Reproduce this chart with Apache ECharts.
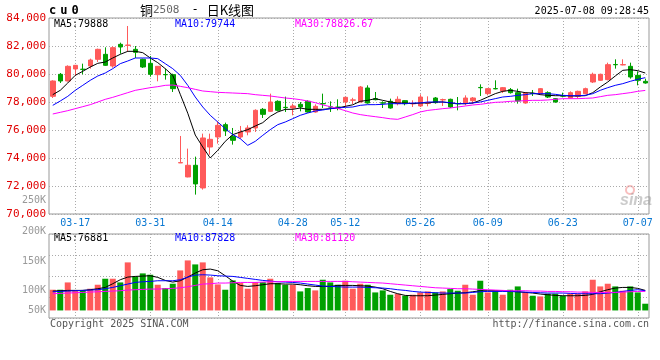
<!DOCTYPE html>
<html><head><meta charset="utf-8">
<script src="https://cdn.jsdelivr.net/npm/echarts/dist/echarts.min.js"></script>
<style>html,body{margin:0;padding:0;background:#fff}#c{width:660px;height:360px}</style>
</head><body><div id="c"></div>
<script>
const dates = ['03-12','03-13','03-14','03-17','03-18','03-19','03-20','03-21','03-24','03-25',
'03-26','03-27','03-28','03-31','04-01','04-02','04-03','04-07','04-08','04-09',
'04-10','04-11','04-14','04-15','04-16','04-17','04-18','04-21','04-22','04-23',
'04-24','04-25','04-28','04-29','04-30','05-06','05-07','05-08','05-09','05-12',
'05-13','05-14','05-15','05-16','05-19','05-20','05-21','05-22','05-23','05-26',
'05-27','05-28','05-29','05-30','06-03','06-04','06-05','06-06','06-09','06-10',
'06-11','06-12','06-13','06-16','06-17','06-18','06-19','06-20','06-23','06-24',
'06-25','06-26','06-27','06-30','07-01','07-02','07-03','07-04','07-07','07-08'];
const labelIndex = [3,13,22,32,39,49,58,68,78];

const openP = [78406,79977,79501,80358,80340,80572,81048,81405,80572,82119,
82040,81762,81048,80762,79953,79960,79953,73650,72647,73479,
71861,74786,75502,76383,75550,75502,75860,76145,77476,77334,
78048,77620,77572,77834,78048,77286,77890,77650,77643,78000,
78130,78000,79001,78239,77940,78048,77881,78096,77870,77715,
77900,78286,78150,78191,77890,77881,78096,79040,78596,78960,
78786,78881,78667,77929,78620,78596,78667,78239,78440,78286,
78405,78596,79429,79548,79596,80680,80650,80548,79905,79477];
const closeP = [79501,79501,80548,80619,80330,81000,81762,80619,81881,81929,
82070,81548,80500,79977,80548,79950,78953,73670,73479,72147,
75430,75334,76334,75931,75264,75860,76145,77407,77119,78000,
77407,77600,77715,77643,77286,77691,77870,77640,77572,78334,
78150,79072,77929,78167,77920,77572,78191,77881,77890,78357,
77960,77953,78170,77643,77870,78286,78286,79020,78953,78940,
79024,78667,78072,78643,78600,78953,78357,78000,78420,78667,
78762,78953,79977,79977,80667,80660,80670,79786,79548,79358];
const lowP = [78287,79358,79477,79858,79977,80382,80858,80572,80453,81453,
81571,81143,80429,79810,79477,79596,78715,73640,72620,71385,
71742,74240,75026,75574,74955,75383,75622,75860,76858,77286,
77334,77286,77048,77334,77238,77238,77572,77286,77407,77643,
77850,77980,77881,78120,77572,77524,77762,77762,77643,77643,
77691,77881,77715,77572,77405,77762,77881,78429,78477,78905,
78643,78600,77881,77881,78429,78524,78286,77953,78334,78239,
78239,78548,79358,79500,79548,80382,80620,79667,79191,79310];
const highP = [79549,80072,80619,80640,80738,81096,81810,81905,81976,82238,
83429,82000,81096,81286,80570,80382,80024,75574,74670,74098,
75740,75740,76619,76526,76145,76288,76334,77476,77572,78596,
78120,78381,77881,78000,78120,77834,78596,78048,78191,78357,
78300,79143,79191,78715,78048,78239,78405,78120,78120,78548,
78405,78357,78239,78239,78357,78477,78357,79262,79001,79548,
79072,79000,78953,78715,78858,79000,78762,78286,78667,78762,
78810,79024,80096,80024,80810,81048,81048,80810,80191,79667];

const ma5 = [78524,78834,79358,79905,80191,80500,80762,80857,81143,81405,
81619,81619,81524,81143,80810,80381,79900,78550,77200,75640,
74786,74000,74548,75190,75667,75857,76024,76286,76524,76976,
77286,77476,77476,77571,77476,77476,77476,77524,77571,77690,
77800,78048,78119,78238,78119,78000,77929,77929,77881,77929,
77929,78000,78000,77929,77881,77881,77929,78119,78357,78595,
78762,78833,78762,78667,78643,78524,78476,78452,78452,78429,
78429,78452,78667,79071,79429,79857,80262,80310,80238,80071];
const ma10 = [77762,78071,78405,78833,79190,79548,79857,80071,80381,80738,
80929,81143,81143,81143,81095,80738,80381,79905,79190,78357,
77643,77048,76571,76095,75667,75381,74905,75190,75619,76024,
76381,76571,76810,77048,77214,77357,77428,77524,77571,77619,
77643,77762,77810,77810,77833,77881,77881,77881,77929,77929,
78000,78000,78000,77952,77881,77881,77929,78000,78119,78238,
78357,78405,78476,78524,78595,78595,78595,78548,78476,78452,
78452,78476,78595,78833,79024,79190,79310,79476,79619,79738];
const ma30 = [77143,77262,77381,77524,77667,77810,78000,78190,78333,78500,
78667,78833,78929,79024,79095,79190,79214,79119,79024,78905,
78786,78738,78690,78667,78643,78619,78595,78524,78476,78429,
78357,78286,78238,78167,78071,77952,77790,77670,77540,77380,
77214,77100,77020,76952,76881,76800,76762,76930,77100,77290,
77400,77460,77524,77571,77643,77714,77786,77833,77905,77976,
78000,78048,78071,78095,78119,78119,78143,78190,78238,78238,
78238,78262,78286,78381,78476,78524,78595,78667,78762,78827];

const volume = [49300,49300,66700,47700,47700,51700,61200,75500,75500,66700,
114400,81000,88200,85000,61200,53300,63600,95300,119100,109600,
114400,78700,62000,49300,71500,65200,51700,67500,67500,75500,
65200,61200,61200,45300,53300,47700,73100,66700,61200,70700,
51700,63600,61200,42900,47700,37400,39800,35000,37400,42900,
45300,42900,45300,50900,46900,61200,37400,70700,42900,46900,
37400,49300,57200,42900,35000,33400,39800,39800,35000,39800,
39800,45300,73100,57200,63600,57200,46900,57200,42900,16000];
const volMa5 = [46100,46900,47700,47700,47700,49300,51700,54800,63600,73100,
79400,81000,81800,82600,78700,71500,67500,70700,79400,89000,
96900,98500,94500,82600,69900,59600,57200,58800,61200,63600,
63600,62800,62800,61200,58800,57200,57200,57200,59600,59600,
59600,58800,58000,55600,51700,45300,39800,35800,35000,35000,
35000,36600,38200,39800,41400,42100,44500,46900,46900,46900,
46900,45300,44500,42900,41400,39000,37400,35800,35000,35000,
35000,35800,38200,44500,49300,53300,54800,54800,52500,47700];
const volMa10 = [44500,45300,46100,46900,47700,48500,49300,51700,54800,58800,
62800,66700,68300,69100,70700,70700,70700,73100,79400,84200,
85000,84200,82600,81800,81000,78700,76300,73900,71500,69900,
68300,67500,66700,65200,62800,60400,58000,57200,56400,55600,
55600,55600,54800,54000,53300,51700,49300,47700,45300,43700,
42900,42100,41400,41400,41400,41400,42900,44500,45300,45300,
45300,45300,44500,43700,42900,42100,41400,41400,41400,40600,
39800,39800,39800,39800,41400,42900,45300,47700,49300,46900];
const volMa30 = [39800,40600,41400,42100,42900,43700,44500,45300,46100,46900,
48500,49300,50100,50900,50900,51700,52500,54000,56400,59600,
62800,63600,65200,65200,65900,66700,66700,66700,67500,68300,
68300,69100,69100,69100,69100,69100,69100,69100,69100,69100,
68300,67500,66700,65900,65200,63600,62000,60400,58800,57200,
55600,54000,53300,52500,51700,51700,50900,50100,49300,48500,
47700,46900,46900,46900,46100,46100,45300,45300,44500,44500,
43700,43700,42900,42900,42900,42900,43700,44500,45300,45300];

const RED = '#ff5a5a', GREEN = '#00a000';
const MONO = 'DejaVu Sans Mono';
const GRIDC = '#aaa';
const showIdx = (i) => labelIndex.indexOf(i) >= 0;

const candles = dates.map((d, i) => [openP[i], closeP[i], lowP[i], highP[i]]);
const volBars = volume.map((v, i) => ({ value: v, itemStyle: { color: closeP[i] >= openP[i] ? RED : GREEN } }));

const volRich = {
  t50: { color: '#999', fontFamily: MONO, fontSize: 10, padding: [26, 0, 0, 0] },
  t100: { color: '#999', fontFamily: MONO, fontSize: 10, padding: [28, 0, 0, 0] },
  t150: { color: '#999', fontFamily: MONO, fontSize: 10, padding: [12, 0, 0, 0] },
  t200: { color: '#999', fontFamily: MONO, fontSize: 10, padding: [0, 0, 6, 0] }
};

function txt(x, y, text, color, size, align, extra) {
  return Object.assign({ type: 'text', x: x, y: y, silent: true,
    style: { text: text, fill: color, font: size + 'px "' + MONO + '"', align: align || 'left', verticalAlign: 'middle' } }, extra || {});
}

const chart = echarts.init(document.getElementById('c'), null, { renderer: 'canvas' });
chart.setOption({
  animation: false,
  backgroundColor: '#fff',
  grid: [
    { left: 49, top: 18, width: 600, height: 196, show: true, borderColor: '#999', borderWidth: 1, backgroundColor: 'transparent' },
    { left: 49, top: 234, width: 600, height: 84, show: true, borderColor: '#999', borderWidth: 1, backgroundColor: 'transparent' }
  ],
  xAxis: [
    { type: 'category', gridIndex: 0, data: dates, boundaryGap: true,
      axisLine: { show: false }, axisTick: { show: false },
      axisLabel: { interval: (i) => showIdx(i), color: '#0a78d2', fontFamily: MONO, fontSize: 10, margin: 4 },
      splitLine: { show: true, interval: (i) => showIdx(i), alignWithLabel: true, lineStyle: { color: GRIDC, type: [1, 2], width: 1 } } },
    { type: 'category', gridIndex: 1, data: dates, boundaryGap: true,
      axisLine: { show: false }, axisTick: { show: false }, axisLabel: { show: false },
      splitLine: { show: true, interval: (i) => showIdx(i), alignWithLabel: true, lineStyle: { color: GRIDC, type: [1, 2], width: 1 } } }
  ],
  yAxis: [
    { type: 'value', gridIndex: 0, min: 70000, max: 84000, interval: 2000,
      axisLine: { show: false }, axisTick: { show: false },
      axisLabel: { color: '#e00000', fontFamily: MONO, fontSize: 11, margin: 3 },
      splitLine: { show: true, lineStyle: { color: GRIDC, type: [1, 2], width: 1 } } },
    { type: 'value', gridIndex: 1, min: 0, max: 200000, interval: 50000,
      axisLine: { show: false }, axisTick: { show: false },
      axisLabel: { margin: 3, color: '#999', fontFamily: MONO, fontSize: 10,
        formatter: (v) => v === 0 ? '' : '{t' + (v / 1000) + '|' + (v / 1000) + 'K}', rich: volRich },
      splitLine: { show: true, lineStyle: { color: GRIDC, type: [1, 2], width: 1 } } },
    { type: 'value', gridIndex: 1, min: -18000, max: 182000, show: false, splitLine: { show: false } }
  ],
  series: [
    { type: 'candlestick', xAxisIndex: 0, yAxisIndex: 0, data: candles, barWidth: 5,
      itemStyle: { color: RED, color0: GREEN, borderColor: RED, borderColor0: GREEN, borderWidth: 1 } },
    { type: 'line', xAxisIndex: 0, yAxisIndex: 0, data: ma5, showSymbol: false, symbol: 'none', z: 5, lineStyle: { color: '#000', width: 1 } },
    { type: 'line', xAxisIndex: 0, yAxisIndex: 0, data: ma10, showSymbol: false, symbol: 'none', z: 5, lineStyle: { color: '#0000ff', width: 1 } },
    { type: 'line', xAxisIndex: 0, yAxisIndex: 0, data: ma30, showSymbol: false, symbol: 'none', z: 5, lineStyle: { color: '#ff00ff', width: 1 } },
    { type: 'bar', xAxisIndex: 1, yAxisIndex: 2, data: volBars, barWidth: 6 },
    { type: 'line', xAxisIndex: 1, yAxisIndex: 2, data: volMa5, showSymbol: false, symbol: 'none', z: 5, lineStyle: { color: '#000', width: 1 } },
    { type: 'line', xAxisIndex: 1, yAxisIndex: 2, data: volMa10, showSymbol: false, symbol: 'none', z: 5, lineStyle: { color: '#0000ff', width: 1 } },
    { type: 'line', xAxisIndex: 1, yAxisIndex: 2, data: volMa30, showSymbol: false, symbol: 'none', z: 5, lineStyle: { color: '#ff00ff', width: 1 } }
  ],
  graphic: [
    { type: 'text', x: 47, y: 11, silent: true,
      style: { text: '{c|c}{c|u}{c|0}', verticalAlign: 'middle',
        rich: { c: { fill: '#000', color: '#000', font: 'bold 12px "' + MONO + '"', padding: [0, 2, 0, 2] } } } },
    { type: 'text', x: 140, y: 10, silent: true,
      style: { text: '{a|铜}{b|2508}{d|-}{a|日K线图}', verticalAlign: 'middle',
        rich: { a: { fill: '#000', color: '#000', font: '13px "Noto Sans CJK SC"' },
                b: { fill: '#666', color: '#666', font: '11px "' + MONO + '"' },
                d: { fill: '#000', color: '#000', font: '12px "' + MONO + '"', padding: [0, 8, 0, 12] } } } },
    txt(649, 11, '2025-07-08 09:28:45', '#000', 10, 'right'),
    txt(54, 24, 'MA5:79888', '#000', 10),
    txt(175, 24, 'MA10:79744', '#0000ff', 10),
    txt(295, 24, 'MA30:78826.67', '#ff00ff', 10),
    txt(54, 238, 'MA5:76881', '#000', 10),
    txt(175, 238, 'MA10:87828', '#0000ff', 10),
    txt(295, 238, 'MA30:81120', '#ff00ff', 10),
    txt(46, 200, '250K', '#999', 10, 'right'),
    txt(50, 324, 'Copyright 2025 SINA.COM', '#555', 10),
    txt(649, 324, 'http://finance.sina.com.cn', '#555', 10, 'right'),
    { type: 'circle', silent: true, shape: { cx: 630, cy: 190, r: 4 }, style: { fill: 'none', stroke: 'rgba(240,110,110,0.45)', lineWidth: 2 } },
    { type: 'text', x: 636, y: 201, silent: true,
      style: { text: 'sina', fill: 'rgba(140,140,140,0.45)', font: 'italic bold 16px "Liberation Sans"', align: 'center', verticalAlign: 'middle' } }
  ]
});
</script></body></html>
